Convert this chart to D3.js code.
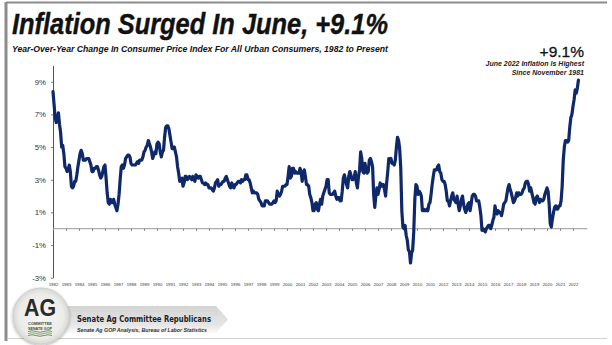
<!DOCTYPE html>
<html>
<head>
<meta charset="utf-8">
<script src="https://cdnjs.cloudflare.com/ajax/libs/d3/7.8.5/d3.min.js"></script>
<style>
  html, body { margin: 0; padding: 0; background: #fff; }
  svg { display: block; }
</style>
</head>
<body>
<svg id="chart" width="612" height="345"></svg>
<script>
// Year-over-year % change in CPI-U, monthly, January 1982 through June 2022
const startYear = 1982;
const cpiYoY = [
  8.4, 7.6, 6.8, 6.5, 6.7, 7.1, 6.4, 5.9, 5.0, 5.1, 4.6, 3.8,   // 1982
  3.7, 3.5, 3.6, 3.9, 3.5, 2.6, 2.5, 2.6, 2.9, 2.9, 3.3, 3.8,   // 1983
  4.2, 4.6, 4.8, 4.6, 4.2, 4.2, 4.2, 4.3, 4.3, 4.3, 4.1, 3.9,   // 1984
  3.5, 3.5, 3.7, 3.7, 3.8, 3.8, 3.6, 3.3, 3.1, 3.2, 3.5, 3.8,   // 1985
  3.9, 3.1, 2.2, 1.6, 1.5, 1.8, 1.6, 1.6, 1.8, 1.5, 1.3, 1.1,   // 1986
  1.5, 2.1, 3.0, 3.8, 3.9, 3.7, 3.9, 4.3, 4.4, 4.5, 4.5, 4.4,   // 1987
  4.0, 3.9, 3.9, 3.9, 3.9, 4.0, 4.1, 4.0, 4.2, 4.2, 4.2, 4.4,   // 1988
  4.7, 4.8, 5.0, 5.1, 5.4, 5.2, 5.0, 4.7, 4.3, 4.5, 4.7, 4.6,   // 1989
  5.2, 5.3, 5.2, 4.7, 4.4, 4.7, 4.8, 5.6, 6.2, 6.3, 6.3, 6.1,   // 1990
  5.7, 5.3, 4.9, 4.9, 5.0, 4.7, 4.4, 3.8, 3.4, 2.9, 3.0, 3.1,   // 1991
  2.6, 2.8, 3.2, 3.2, 3.0, 3.1, 3.2, 3.1, 3.0, 3.2, 3.0, 2.9,   // 1992
  3.3, 3.2, 3.1, 3.2, 3.2, 3.0, 2.8, 2.8, 2.7, 2.8, 2.7, 2.7,   // 1993
  2.5, 2.5, 2.5, 2.4, 2.3, 2.5, 2.8, 2.9, 3.0, 2.6, 2.7, 2.7,   // 1994
  2.8, 2.9, 2.9, 3.1, 3.2, 3.0, 2.8, 2.6, 2.5, 2.8, 2.6, 2.5,   // 1995
  2.7, 2.7, 2.8, 2.9, 2.9, 2.8, 3.0, 2.9, 3.0, 3.0, 3.3, 3.3,   // 1996
  3.0, 3.0, 2.8, 2.5, 2.2, 2.3, 2.2, 2.2, 2.2, 2.1, 1.8, 1.7,   // 1997
  1.6, 1.4, 1.4, 1.4, 1.7, 1.7, 1.7, 1.6, 1.5, 1.5, 1.5, 1.6,   // 1998
  1.7, 1.6, 1.7, 2.3, 2.1, 2.0, 2.1, 2.3, 2.6, 2.6, 2.6, 2.7,   // 1999
  2.7, 3.2, 3.8, 3.1, 3.2, 3.7, 3.7, 3.4, 3.5, 3.4, 3.4, 3.4,   // 2000
  3.7, 3.5, 2.9, 3.3, 3.6, 3.2, 2.7, 2.7, 2.6, 2.1, 1.9, 1.6,   // 2001
  1.1, 1.1, 1.5, 1.6, 1.2, 1.1, 1.5, 1.8, 1.5, 2.0, 2.2, 2.4,   // 2002
  2.6, 3.0, 3.0, 2.2, 2.1, 2.1, 2.1, 2.2, 2.3, 2.0, 1.8, 1.9,   // 2003
  1.9, 1.7, 1.7, 2.3, 3.1, 3.3, 3.0, 2.7, 2.5, 3.2, 3.5, 3.3,   // 2004
  3.0, 3.0, 3.1, 3.5, 2.8, 2.5, 3.2, 3.6, 4.7, 4.3, 3.5, 3.4,   // 2005
  4.0, 3.6, 3.4, 3.5, 4.2, 4.3, 4.1, 3.8, 2.1, 1.3, 2.0, 2.5,   // 2006
  2.1, 2.4, 2.8, 2.6, 2.7, 2.7, 2.4, 2.0, 2.8, 3.5, 4.3, 4.1,   // 2007
  4.3, 4.0, 4.0, 3.9, 4.2, 5.0, 5.6, 5.4, 4.9, 3.7, 1.1, 0.1,   // 2008
  0.0, 0.2, -0.4, -0.7, -1.3, -1.4, -2.1, -1.5, -1.3, -0.2, 1.8, 2.7, // 2009
  2.6, 2.1, 2.3, 2.2, 2.0, 1.1, 1.2, 1.1, 1.1, 1.2, 1.1, 1.5,   // 2010
  1.6, 2.1, 2.7, 3.2, 3.6, 3.6, 3.6, 3.8, 3.9, 3.5, 3.4, 3.0,   // 2011
  2.9, 2.9, 2.7, 2.3, 1.7, 1.7, 1.4, 1.7, 2.0, 2.2, 1.8, 1.7,   // 2012
  1.6, 2.0, 1.5, 1.1, 1.4, 1.8, 2.0, 1.5, 1.2, 1.0, 1.2, 1.5,   // 2013
  1.6, 1.1, 1.5, 2.0, 2.1, 2.1, 2.0, 1.7, 1.7, 1.7, 1.3, 0.8,   // 2014
  -0.1, 0.0, -0.1, -0.2, 0.0, 0.1, 0.2, 0.2, 0.0, 0.2, 0.5, 0.7, // 2015
  1.4, 1.0, 0.9, 1.1, 1.0, 1.0, 0.8, 1.1, 1.5, 1.6, 1.7, 2.1,   // 2016
  2.5, 2.7, 2.4, 2.2, 1.9, 1.6, 1.7, 1.9, 2.2, 2.0, 2.2, 2.1,   // 2017
  2.1, 2.2, 2.4, 2.5, 2.8, 2.9, 2.9, 2.7, 2.3, 2.5, 2.2, 1.9,   // 2018
  1.6, 1.5, 1.9, 2.0, 1.8, 1.6, 1.8, 1.7, 1.7, 1.8, 2.1, 2.3,   // 2019
  2.5, 2.3, 1.5, 0.3, 0.1, 0.6, 1.0, 1.3, 1.4, 1.2, 1.2, 1.4,   // 2020
  1.4, 1.7, 2.6, 4.2, 5.0, 5.4, 5.4, 5.3, 5.4, 6.2, 6.8, 7.0,   // 2021
  7.5, 7.9, 8.5, 8.3, 8.6, 9.1                                  // 2022
];

// Axis labels
const yearLabels = d3.range(1982, 2023);
const yTicks = [-3, -1, 1, 3, 5, 7, 9];

// Text
const title = "Inflation Surged In June, +9.1%";
const subtitle = "Year-Over-Year Change In Consumer Price Index For All Urban Consumers, 1982 to Present";
const calloutValue = "+9.1%";
const calloutLines = ["June 2022 Inflation Is Highest", "Since November 1981"];
const orgName = "Senate Ag Committee Republicans";
const sourceText = "Senate Ag GOP Analysis, Bureau of Labor Statistics";

const svg = d3.select("#chart");
const lineColor = "#0e2869";
const axisColor = "#9a9a9a";

// Frame
svg.append("rect").attr("x", 0).attr("y", 0).attr("width", 612).attr("height", 345).attr("fill", "#fff");
svg.append("line").attr("x1", 6).attr("x2", 607).attr("y1", 2.5).attr("y2", 2.5)
  .attr("stroke", "#8c8c8c").attr("stroke-width", 2);
svg.append("line").attr("x1", 6).attr("x2", 6).attr("y1", 2).attr("y2", 341)
  .attr("stroke", "#8c8c8c").attr("stroke-width", 3);
svg.append("line").attr("x1", 7).attr("x2", 607).attr("y1", 338.5).attr("y2", 338.5)
  .attr("stroke", "#d0d0d0").attr("stroke-width", 1);

// Headings
svg.append("text").attr("x", 12).attr("y", 34)
  .attr("font-family", "'Liberation Sans Narrow', 'Liberation Sans', Arial, sans-serif")
  .attr("font-weight", "bold").attr("font-style", "italic").attr("font-size", 30)
  .attr("textLength", 376).attr("lengthAdjust", "spacingAndGlyphs")
  .attr("stroke", "#111").attr("stroke-width", 0.4)
  .attr("fill", "#111").text(title);
svg.append("text").attr("x", 12).attr("y", 52)
  .attr("font-family", "'Liberation Sans Narrow', 'Liberation Sans', Arial, sans-serif")
  .attr("font-weight", "bold").attr("font-style", "italic").attr("font-size", 9.5)
  .attr("textLength", 376).attr("lengthAdjust", "spacingAndGlyphs")
  .attr("fill", "#111").text(subtitle);

// Callout
svg.append("text").attr("x", 584).attr("y", 56.5).attr("text-anchor", "end")
  .attr("font-family", "'Liberation Sans', Arial, sans-serif").attr("font-size", 15.5)
  .attr("stroke", "#111").attr("stroke-width", 0.3)
  .attr("fill", "#111").text(calloutValue);
calloutLines.forEach((t, i) => {
  svg.append("text").attr("x", 584).attr("y", 66 + i * 8.5).attr("text-anchor", "end")
    .attr("font-family", "'Liberation Sans Narrow', 'Liberation Sans', Arial, sans-serif")
    .attr("font-weight", "bold").attr("font-style", "italic").attr("font-size", 7)
    .attr("fill", "#222").text(t);
});

// Scales
const x = d3.scaleLinear().domain([1982, 2022]).range([53, 573]);
const y = d3.scaleLinear().domain([-3, 10]).range([277.7, 65.4]);

// Y axis
const yAxis = svg.append("g").attr("transform", "translate(53,0)")
  .call(d3.axisLeft(y).tickValues(yTicks).tickFormat(d => d + "%").tickSize(2).tickSizeOuter(0));
yAxis.select(".domain").attr("stroke", "#555");
yAxis.selectAll(".tick line").attr("stroke", "#777");
yAxis.selectAll(".tick text")
  .attr("font-family", "'Liberation Sans', Arial, sans-serif").attr("font-size", 7.8)
  .attr("fill", "#333").attr("x", -7);

// Zero baseline with yearly ticks
const zeroAxis = svg.append("g").attr("transform", `translate(0,${y(0)})`)
  .call(d3.axisBottom(x).tickValues(yearLabels).tickSize(2).tickSizeOuter(0).tickFormat(""));
zeroAxis.select(".domain").attr("d", `M${x(1982)},0H${x(2023.1)}`).attr("stroke", axisColor);
zeroAxis.selectAll(".tick line").attr("stroke", "#777");

// Year labels along the bottom
const xLabels = svg.append("g").attr("transform", "translate(0,280)")
  .call(d3.axisBottom(x).tickValues(yearLabels).tickSize(0).tickFormat(d3.format("d")));
xLabels.select(".domain").remove();
xLabels.selectAll(".tick text")
  .attr("font-family", "'Liberation Sans', Arial, sans-serif").attr("font-size", 4.3)
  .attr("fill", "#333").attr("dy", "0.71em");

// CPI line
const points = cpiYoY.map((v, i) => ({ t: startYear + i / 12, v }));
svg.append("path").datum(points)
  .attr("fill", "none").attr("stroke", lineColor).attr("stroke-width", 3.2)
  .attr("stroke-linejoin", "round").attr("stroke-linecap", "round")
  .attr("d", d3.line().x(d => x(d.t)).y(d => y(d.v)));

// Footer badge and banner
const defs = svg.append("defs");
const bannerGrad = defs.append("linearGradient").attr("id", "bannerGrad")
  .attr("x1", 0).attr("x2", 0).attr("y1", 0).attr("y2", 1);
bannerGrad.append("stop").attr("offset", "0%").attr("stop-color", "#d4d4d4");
bannerGrad.append("stop").attr("offset", "70%").attr("stop-color", "#e6e6e6");
bannerGrad.append("stop").attr("offset", "100%").attr("stop-color", "#fafafa");
const badgeGrad = defs.append("radialGradient").attr("id", "badgeGrad");
badgeGrad.append("stop").attr("offset", "0%").attr("stop-color", "#f6f6f4");
badgeGrad.append("stop").attr("offset", "80%").attr("stop-color", "#ebebe8");
badgeGrad.append("stop").attr("offset", "100%").attr("stop-color", "#d8d8d4");
const shadow = defs.append("filter").attr("id", "badgeShadow")
  .attr("x", "-30%").attr("y", "-30%").attr("width", "160%").attr("height", "160%");
shadow.append("feDropShadow").attr("dx", 0).attr("dy", 1).attr("stdDeviation", 1.5)
  .attr("flood-color", "#000").attr("flood-opacity", 0.35);

svg.append("path")
  .attr("d", "M60,306 L216,306 L228,319.5 L216,333 L60,333 Z")
  .attr("fill", "url(#bannerGrad)");

svg.append("text").attr("x", 77).attr("y", 322)
  .attr("font-family", "'DejaVu Sans', Verdana, sans-serif").attr("font-weight", "bold")
  .attr("font-size", 9).attr("textLength", 134).attr("lengthAdjust", "spacingAndGlyphs")
  .attr("fill", "#222").text(orgName);
svg.append("text").attr("x", 77).attr("y", 331.5)
  .attr("font-family", "'Liberation Sans', Arial, sans-serif").attr("font-weight", "bold")
  .attr("font-style", "italic").attr("font-size", 5.2)
  .attr("textLength", 130).attr("lengthAdjust", "spacingAndGlyphs")
  .attr("fill", "#333").text(sourceText);

const badge = svg.append("g").attr("transform", "translate(41,316)");
badge.append("circle").attr("r", 28).attr("fill", "url(#badgeGrad)")
  .attr("stroke", "#cfcfcb").attr("stroke-width", 1).attr("filter", "url(#badgeShadow)");
badge.append("text").attr("x", -1).attr("y", -0.5).attr("text-anchor", "middle")
  .attr("font-family", "'Liberation Sans Narrow', 'Liberation Sans', Arial, sans-serif")
  .attr("font-weight", "bold").attr("font-size", 24)
  .attr("textLength", 32).attr("lengthAdjust", "spacingAndGlyphs")
  .attr("fill", "#2a2a2a").text("AG");
badge.append("text").attr("x", -1).attr("y", 8.5).attr("text-anchor", "middle")
  .attr("font-family", "'Liberation Sans Narrow', 'Liberation Sans', Arial, sans-serif")
  .attr("font-weight", "bold").attr("font-size", 4.4)
  .attr("textLength", 24).attr("lengthAdjust", "spacingAndGlyphs")
  .attr("fill", "#3d4a3a").text("COMMITTEE");
badge.append("text").attr("x", -1).attr("y", 13.5).attr("text-anchor", "middle")
  .attr("font-family", "'Liberation Sans Narrow', 'Liberation Sans', Arial, sans-serif")
  .attr("font-weight", "bold").attr("font-size", 4.4)
  .attr("textLength", 24).attr("lengthAdjust", "spacingAndGlyphs")
  .attr("fill", "#3d4a3a").text("SENATE GOP");
[15.5, 17.5, 19.5].forEach((dy, i) => {
  badge.append("path")
    .attr("d", `M-13,${dy} q4,-1.5 8,0 t8,0 t8,0`)
    .attr("fill", "none").attr("stroke", i === 1 ? "#6d9a4a" : "#4f7f3a").attr("stroke-width", 0.8);
});
</script>
</body>
</html>
